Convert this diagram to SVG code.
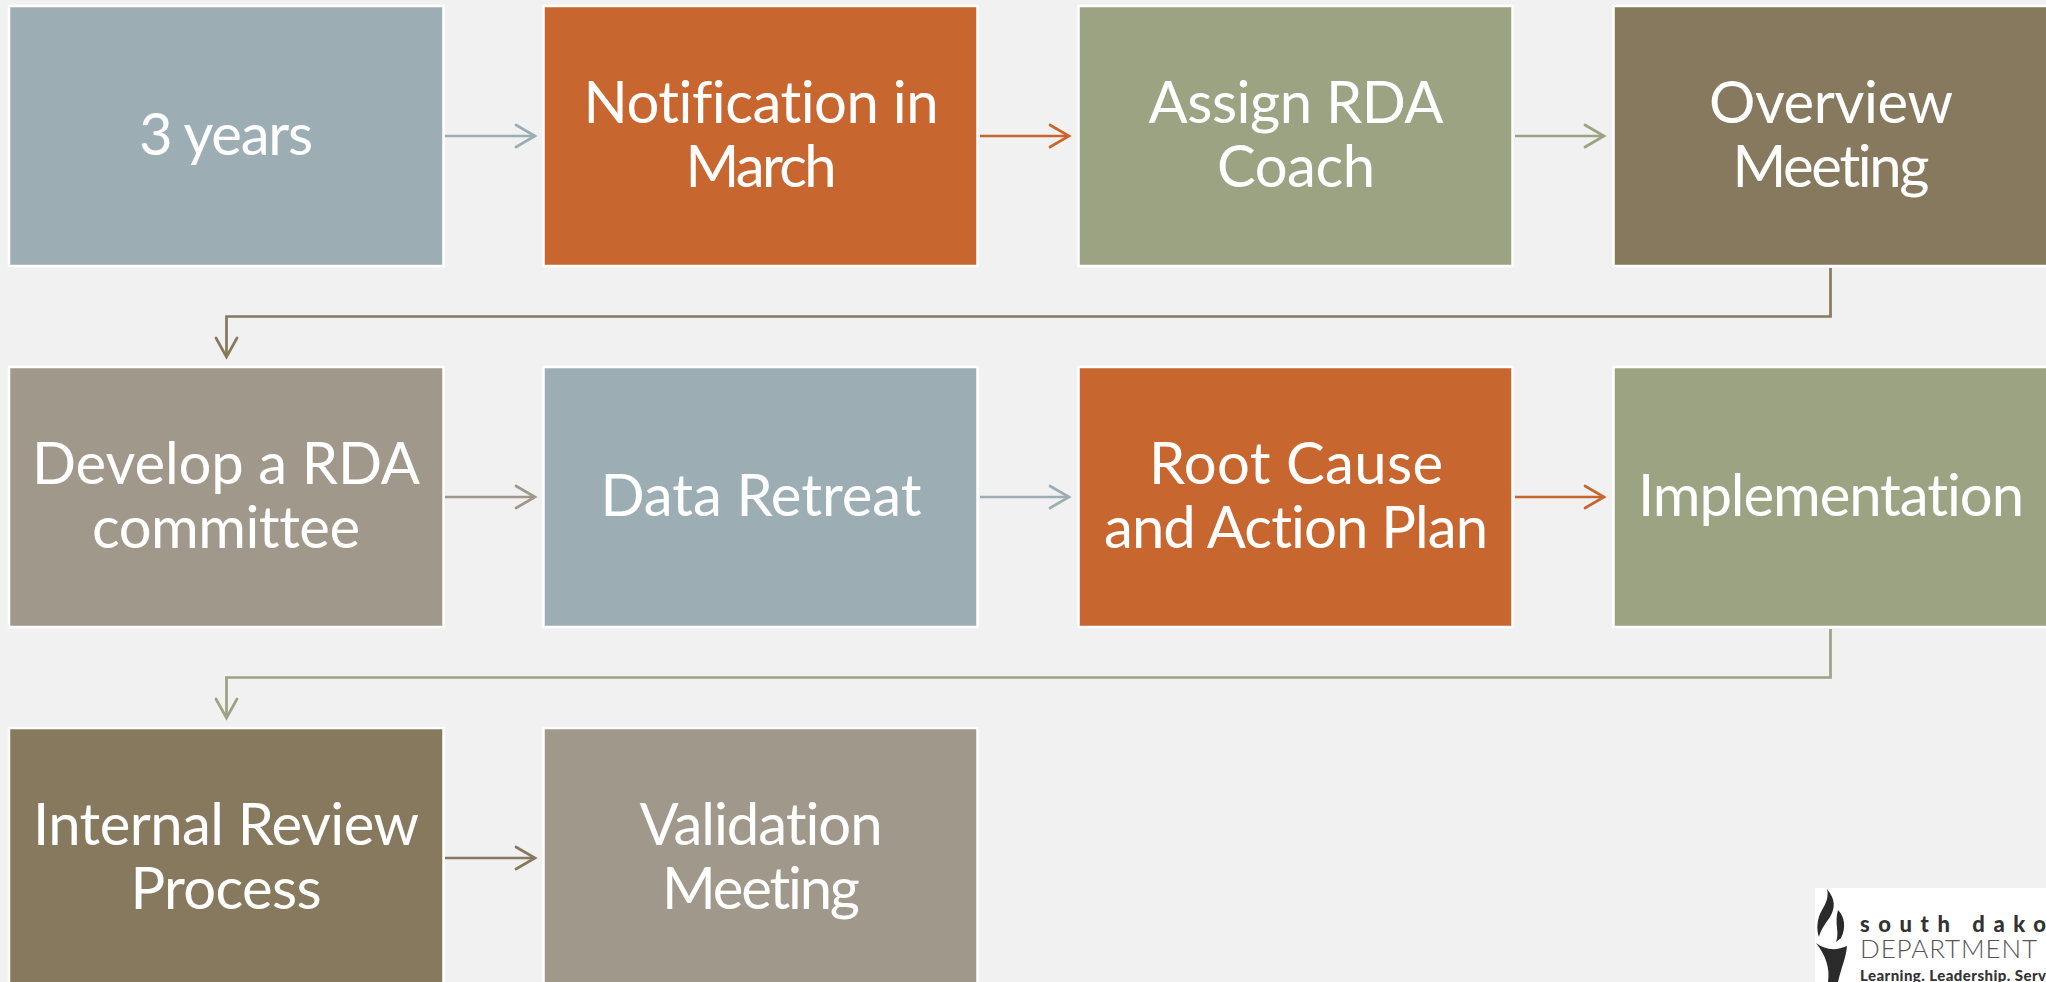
<svg xmlns="http://www.w3.org/2000/svg" width="2046" height="982" viewBox="0 0 2046 982">
<style>
.n{stroke:#fff;stroke-width:2.5}
.t{font-family:"Lato","Noto Sans",sans-serif;font-size:58px;fill:#fff;text-anchor:middle;font-variant-ligatures:none}
.c{fill:none;stroke-width:2.7;stroke-linejoin:miter}
.h{fill:none;stroke-width:2.7;stroke-linecap:round}
.blue{fill:#9CAEB4}.or{fill:#C8662F}.gr{fill:#9CA383}.br{fill:#87795D}.ta{fill:#A0988A}
.sb{stroke:#9CAEB4}.so{stroke:#C8662F}.sg{stroke:#9CA383}.sr{stroke:#87795D}.st{stroke:#A0988A}
</style>
<rect width="2046" height="982" fill="#F1F1F1"/>
<g id="connectors">
<path class="c sb" d="M445 136H535"/><path class="h sb" d="M516 125L535 136L516 147"/>
<path class="c so" d="M980 136H1069"/><path class="h so" d="M1050 125L1069 136L1050 147"/>
<path class="c sg" d="M1515 136H1604"/><path class="h sg" d="M1585 125L1604 136L1585 147"/>
<path class="c sr" d="M1830.500 268V316.500H226.500V357"/><path class="h sr" d="M216 338L226.500 357L237 338"/>
<path class="c st" d="M445 497H535"/><path class="h st" d="M516 486L535 497L516 508"/>
<path class="c sb" d="M980 497H1069"/><path class="h sb" d="M1050 486L1069 497L1050 508"/>
<path class="c so" d="M1515 497H1604"/><path class="h so" d="M1585 486L1604 497L1585 508"/>
<path class="c sg" d="M1830.500 629V677.500H226.500V718"/><path class="h sg" d="M216 699L226.500 718L237 699"/>
<path class="c sr" d="M445 858H535"/><path class="h sr" d="M516 847L535 858L516 869"/>
</g>
<g id="n1"><rect class="n blue" x="9" y="6" width="434.500" height="260"/><text class="t" x="226" y="155" textLength="174">3 years</text></g>
<g id="n2"><rect class="n or" x="543.500" y="6" width="434" height="260"/><text class="t" x="761" y="123" textLength="355">Notification in</text><text class="t" x="761" y="187" textLength="151">March</text></g>
<g id="n3"><rect class="n gr" x="1078.500" y="6" width="434" height="260"/><text class="t" x="1296" y="123" textLength="295">Assign RDA</text><text class="t" x="1296" y="187" textLength="158">Coach</text></g>
<g id="n4"><rect class="n br" x="1613.500" y="6" width="434" height="260"/><text class="t" x="1831" y="123" textLength="244">Overview</text><text class="t" x="1831" y="187" textLength="197">Meeting</text></g>
<g id="n5"><rect class="n ta" x="9" y="367" width="434.500" height="260"/><text class="t" x="226" y="484" textLength="388">Develop a RDA</text><text class="t" x="226" y="548" textLength="268">committee</text></g>
<g id="n6"><rect class="n blue" x="543.500" y="367" width="434" height="260"/><text class="t" x="761" y="516" textLength="321">Data Retreat</text></g>
<g id="n7"><rect class="n or" x="1078.500" y="367" width="434" height="260"/><text class="t" x="1296" y="484" textLength="294">Root Cause</text><text class="t" x="1296" y="548" textLength="384">and Action Plan</text></g>
<g id="n8"><rect class="n gr" x="1613.500" y="367" width="434" height="260"/><text class="t" x="1831" y="516" textLength="386">Implementation</text></g>
<g id="n9"><rect class="n br" x="9" y="728" width="434.500" height="260"/><text class="t" x="226" y="845" textLength="386">Internal Review</text><text class="t" x="226" y="909" textLength="191">Process</text></g>
<g id="n10"><rect class="n ta" x="543.500" y="728" width="434" height="260"/><text class="t" x="761" y="845" textLength="243">Validation</text><text class="t" x="761" y="909" textLength="198">Meeting</text></g>
<g id="logo">
<rect x="1815" y="888" width="231" height="94" fill="#fff"/>
<path d="M1827 889C1836 900 1835 908 1830 917C1826 923 1821 929 1819 937C1816 930 1817 918 1822 910C1826 903 1829 897 1827 889Z" fill="#2a2a2a"/>
<path d="M1838 910C1845 917 1846 928 1841 938L1836 942C1840 932 1834 924 1838 910Z" fill="#2a2a2a"/>
<path d="M1816 943C1825 950 1836 951 1847 946C1846 958 1842 965 1838 982H1828C1830 968 1826 956 1816 943Z" fill="#2a2a2a"/>
<text x="1860" y="932" textLength="186" style="font-family:'Lato',sans-serif;font-size:22px;font-weight:900;fill:#333">south dako</text>
<text x="1860" y="958" textLength="177" style="font-family:'Lato',sans-serif;font-size:26px;font-weight:300;fill:#555">DEPARTMENT</text>
<text x="1860" y="981" textLength="186" style="font-family:'Lato',sans-serif;font-size:15px;font-weight:900;fill:#333">Learning. Leadership. Serv</text>
</g>
</svg>
